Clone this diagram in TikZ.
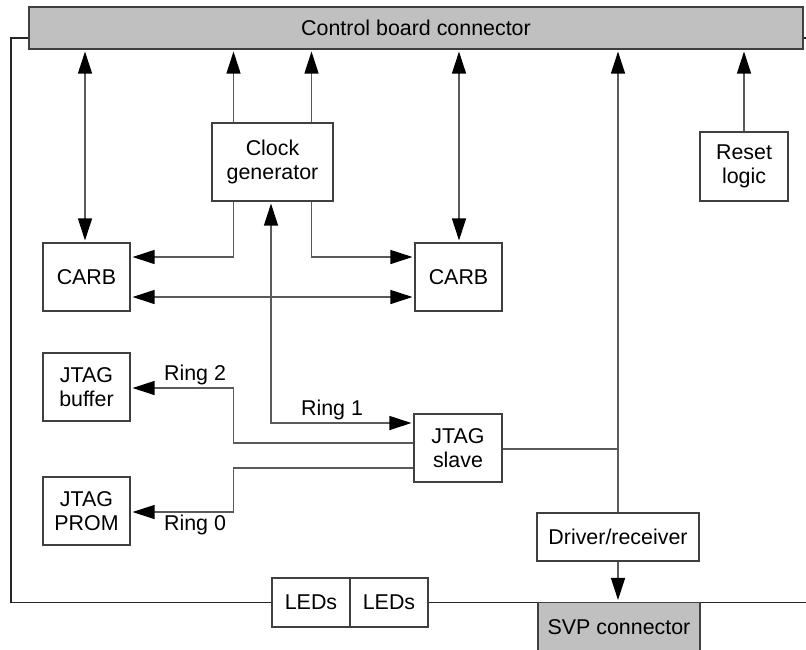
\documentclass[tikz,border=0pt]{standalone}
\usepackage{fontspec}
\setmainfont{Liberation Sans}
\usetikzlibrary{arrows.meta}
\definecolor{conn}{HTML}{C0C0C0}
\definecolor{wire}{HTML}{5A5A5A}
\definecolor{edge}{HTML}{404040}
\begin{document}
\begin{tikzpicture}[x=0.5pt,y=-0.5pt,
  every node/.style={font=\fontsize{10.7}{11.8}\selectfont},
  box/.style={draw=edge,line width=0.55pt,rectangle,inner sep=0pt,align=center},
  conbox/.style={box,fill=conn},
  wireline/.style={draw=wire,line width=0.6pt},
  tip/.tip={Triangle[length=11pt,width=7pt,color=black]},
  arr/.style={wireline,-tip,shorten >=1pt},
  darr/.style={wireline,tip-tip,shorten >=1pt,shorten <=1pt},
  outer/.style={draw=black!85,line width=0.7pt},
  lbl/.style={inner sep=0pt}]
\useasboundingbox (0,0) rectangle (806,649);
% nodes
\node[conbox,minimum width=387pt,minimum height=21pt] (CB) at (416,28) {Control board connector};
\node[box,minimum width=60.5pt,minimum height=39pt] (Clock) at (272.5,162) {Clock\\generator};
\node[box,minimum width=43.5pt,minimum height=34pt] (CARB1) at (86.5,277) {CARB};
\node[box,minimum width=43.5pt,minimum height=34pt] (CARB2) at (458.5,277) {CARB};
\node[box,minimum width=44pt,minimum height=34.5pt] (Reset) at (744,166.5) {Reset\\logic};
\node[box,minimum width=43.5pt,minimum height=34pt] (Jbuf) at (86.5,387) {JTAG\\buffer};
\node[box,minimum width=43.5pt,minimum height=34pt] (Jprom) at (86.5,511) {JTAG\\PROM};
\node[box,minimum width=44pt,minimum height=34pt] (Jslave) at (458,448) {JTAG\\slave};
\node[box,minimum width=81pt,minimum height=24pt] (Driver) at (618,537) {Driver/receiver};
\node[box,minimum width=39pt,minimum height=24.5pt] (LED1) at (311,602.5) {LEDs};
\node[box,minimum width=39pt,minimum height=24.5pt] (LED2) at (389,602.5) {LEDs};
\node[conbox,minimum width=81pt,minimum height=25pt] (SVP) at (619,627.5) {SVP connector};
% helper coordinates
\coordinate (xa) at (85,0);
\coordinate (xb) at (233.5,0);
\coordinate (xc) at (311.5,0);
\coordinate (xd) at (459,0);
\coordinate (xr) at (271,0);
\coordinate (ya) at (0,257);
\coordinate (yb) at (0,297);
\coordinate (yr1) at (0,423);
\coordinate (yr2a) at (0,443);
\coordinate (yr2b) at (0,388);
\coordinate (yr0a) at (0,468);
\coordinate (yr0b) at (0,512);
\coordinate (ys) at (0,449);
\coordinate (yo) at (0,38);
\coordinate (yl) at (0,602.5);
\coordinate (lt) at (11,38);
\coordinate (lb) at (11,602.5);
\coordinate (rt) at (806,38);
\coordinate (rb) at (806,602.5);
% connectors to control board
\draw[darr] (CARB1.north -| xa) -- (CB.south -| xa);
\draw[arr] (Clock.north -| xb) -- (CB.south -| xb);
\draw[arr] (Clock.north -| xc) -- (CB.south -| xc);
\draw[darr] (CARB2.north -| xd) -- (CB.south -| xd);
\draw[arr] (Driver.north) -- (CB.south -| Driver);
\draw[arr] (Reset.north) -- (CB.south -| Reset);
% clock to CARBs
\draw[arr] (Clock.south -| xb) |- (CARB1.east |- ya);
\draw[arr] (Clock.south -| xc) |- (CARB2.west |- ya);
\draw[darr] (CARB1.east |- yb) -- (CARB2.west |- yb);
% Ring 1
\draw[darr] (Jslave.west |- yr1) -| (Clock.south -| xr);
\node[lbl] (r1) at (332,410) {Ring 1};
% Ring 2
\draw[arr] (Jslave.west |- yr2a) -- (xb |- yr2a) -- (xb |- yr2b) -- (Jbuf.east |- yr2b);
\node[lbl] (r2) at (195,375) {Ring 2};
% Ring 0
\draw[arr] (Jslave.west |- yr0a) -- (xb |- yr0a) -- (xb |- yr0b) -- (Jprom.east |- yr0b);
\node[lbl] (r0) at (195,525) {Ring 0};
% slave to vertical bus
\draw[wireline] (Jslave.east |- ys) -- (Driver.north |- ys);
% driver to SVP
\draw[arr] (Driver.south) -- (SVP.north -| Driver);
% outer frame lines
\draw[outer] (CB.west |- yo) -- (lt) -- (lb) -- (LED1.west |- yl);
\draw[outer] (LED2.east |- yl) -- (SVP.west |- yl);
\draw[outer] (SVP.east |- yl) -- (rb);
\draw[outer] (CB.east |- yo) -- (rt);
\end{tikzpicture}
\end{document}
